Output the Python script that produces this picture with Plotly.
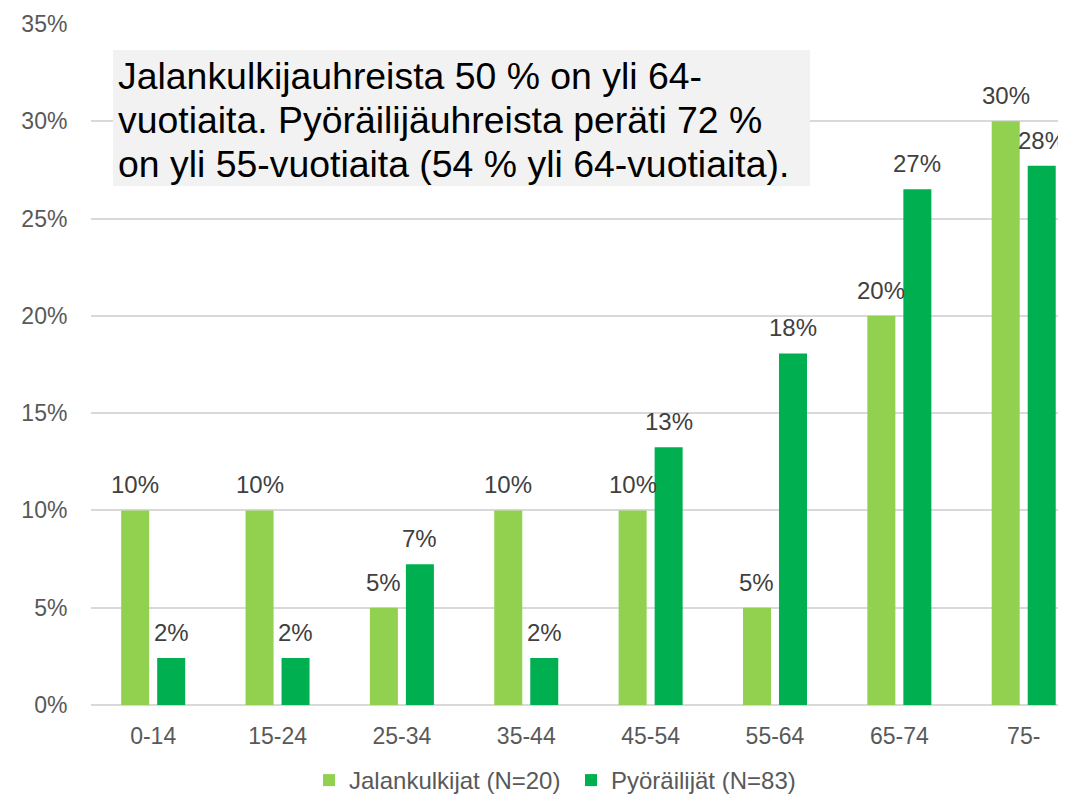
import plotly.graph_objects as go

categories = ["0-14", "15-24", "25-34", "35-44", "45-54", "55-64", "65-74", "75-"]
jalankulkijat = [0.10, 0.10, 0.05, 0.10, 0.10, 0.05, 0.20, 0.30]
pyorailijat = [0.0241, 0.0241, 0.0723, 0.0241, 0.1325, 0.1807, 0.2651, 0.2771]
series_names = ["Jalankulkijat (N=20)", "Pyöräilijät (N=83)"]
y_ticks = [0, 0.05, 0.10, 0.15, 0.20, 0.25, 0.30, 0.35]
note_lines = [
    "Jalankulkijauhreista 50 % on yli 64-",
    "vuotiaita. Pyöräilijäuhreista peräti 72 %",
    "on yli 55-vuotiaita (54 % yli 64-vuotiaita).",
]

FONT = "Arial, 'Liberation Sans', sans-serif"
colors = ["#92d050", "#00b050"]

# page body has an 8px margin; size the figure to fill the rest of the window
OFF = 8
W, H = 1066 - OFF, 795 - OFF
ml, mr, mt, mb = 91 - OFF, 0, 24 - OFF, 90
pw, ph = W - ml - mr, H - mt - mb


def px(x):
    return (x - OFF - ml) / pw


def py(y):
    return (H - mb - (y - OFF)) / ph


fig = go.Figure()
for name, vals, col in zip(series_names, [jalankulkijat, pyorailijat], colors):
    fig.add_trace(go.Bar(x=categories, y=vals, name=name, marker_color=col,
                         marker_line_width=0))

# data labels
for shift, vals in zip([-18, 18], [jalankulkijat, pyorailijat]):
    for c, v in zip(categories, vals):
        fig.add_annotation(x=c, y=v, xref="x", yref="y", text=f"{round(v*100):.0f}%",
                           showarrow=False, xshift=shift, yshift=10, yanchor="bottom",
                           font=dict(family=FONT, size=24, color="#404040"))

# note box
fig.add_shape(type="rect", xref="paper", yref="paper", x0=px(113), x1=px(810),
              y0=py(186), y1=py(50), fillcolor="#f2f2f2", line_width=0, layer="above")
for i, line in enumerate(note_lines):
    fig.add_annotation(x=px(116), y=py(76 + 44 * i), xref="paper", yref="paper",
                       text=line, showarrow=False, xanchor="left", yanchor="middle",
                       font=dict(family=FONT, size=37.4, color="#000000"))

fig.update_layout(
    width=W, height=H,
    margin=dict(l=ml, r=mr, t=mt, b=mb, pad=0, autoexpand=False),
    plot_bgcolor="white", paper_bgcolor="white",
    barmode="group", bargap=0.421, bargroupgap=0.222,
    font=dict(family=FONT, size=23, color="#595959"),
    legend=dict(orientation="h", x=px(309), xanchor="left", y=py(758), yanchor="top",
                font=dict(family=FONT, size=24, color="#595959"),
                itemwidth=30, entrywidth=217, entrywidthmode="pixels",
                traceorder="normal"),
    showlegend=True,
)
fig.update_xaxes(range=[-0.5, 7.34], showgrid=False, showline=False, zeroline=False,
                 automargin=False,
                 ticks="outside", ticklen=10, tickcolor="rgba(0,0,0,0)",
                 tickfont=dict(family=FONT, size=23, color="#595959"))
fig.update_yaxes(range=[0, 0.35], tickvals=y_ticks, tickformat=".0%",
                 automargin=False,
                 showgrid=True, gridcolor="#d9d9d9", gridwidth=1.5,
                 zeroline=True, zerolinecolor="#d9d9d9", zerolinewidth=1.5,
                 showline=False, ticks="outside", ticklen=18,
                 tickcolor="rgba(0,0,0,0)",
                 tickfont=dict(family=FONT, size=23, color="#595959"))

fig.write_html("out.html")
